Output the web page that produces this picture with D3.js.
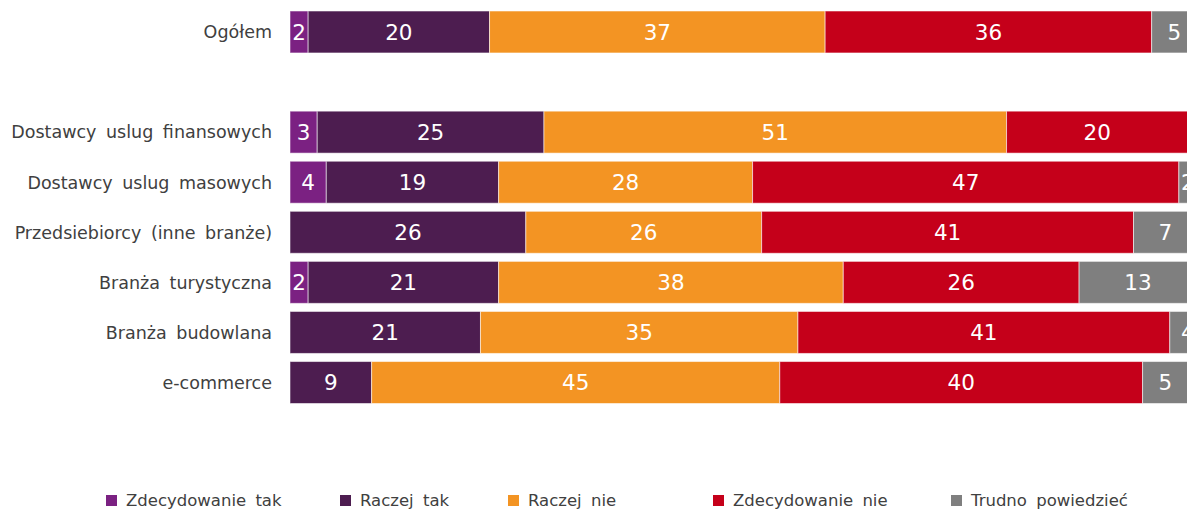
<!DOCTYPE html>
<html>
<head>
<meta charset="utf-8">
<script src="https://cdn.jsdelivr.net/npm/d3@7"></script>
<style>
  html, body { margin: 0; padding: 0; background: #fff; }
  svg { display: block; font-family: "DejaVu Sans", Verdana, sans-serif; }
</style>
</head>
<body>
<svg id="chart" width="1187" height="512"></svg>
<script>
// Row labels (an empty slot separates the total from the groups)
const categories = [
  "Ogółem",
  "",
  "Dostawcy uslug finansowych",
  "Dostawcy uslug masowych",
  "Przedsiebiorcy (inne branże)",
  "Branża turystyczna",
  "Branża budowlana",
  "e-commerce"
];

const seriesNames = ["Zdecydowanie tak", "Raczej tak", "Raczej nie", "Zdecydowanie nie", "Trudno powiedzieć"];
const seriesColors = ["#7b2182", "#4d1d50", "#f39423", "#c5001a", "#7f7f7f"];

// Percentages per answer, one entry per row (null = empty slot)
const zdecydowanieTak = [2, null, 3, 4, 0, 2, 0, 0];
const raczejTak       = [20, null, 25, 19, 26, 21, 21, 9];
const raczejNie       = [37, null, 51, 28, 26, 38, 35, 45];
const zdecydowanieNie = [36, null, 20, 47, 41, 26, 41, 40];
const trudno          = [5, null, 1, 2, 7, 13, 4, 5];

const seriesValues = [zdecydowanieTak, raczejTak, raczejNie, zdecydowanieNie, trudno];

const svg = d3.select("#chart");

const x = d3.scaleLinear().domain([0, 100]).range([290, 1197]);
const y = d3.scaleBand()
  .domain(d3.range(categories.length))
  .range([11, 403.5])
  .paddingInner(0.162)
  .paddingOuter(0);

// Build stacked segments
const segments = categories.map((c, i) => {
  let acc = 0;
  const segs = [];
  if (zdecydowanieTak[i] === null) return segs;
  seriesValues.forEach((vals, s) => {
    const v = vals[i];
    if (v > 0) segs.push({ row: i, s, v, x0: acc, x1: acc + v });
    acc += v;
  });
  return segs;
}).flat();

const g = svg.append("g");

g.selectAll("rect.seg")
  .data(segments)
  .join("rect")
  .attr("class", "seg")
  .attr("x", d => x(d.x0))
  .attr("width", d => x(d.x1) - x(d.x0))
  .attr("y", d => y(d.row))
  .attr("height", y.bandwidth())
  .attr("fill", d => seriesColors[d.s])
  .attr("stroke", "rgba(255,255,255,0.55)")
  .attr("stroke-width", 1);

g.selectAll("text.val")
  .data(segments)
  .join("text")
  .attr("class", "val")
  .attr("x", d => (x(d.x0) + x(d.x1)) / 2)
  .attr("y", d => y(d.row) + y.bandwidth() / 2)
  .attr("dy", "0.36em")
  .attr("text-anchor", "middle")
  .attr("fill", "#fff")
  .attr("font-size", 21.5)
  .text(d => d.v);

// Category axis labels
const yAxis = d3.axisLeft(y)
  .tickSize(0).tickPadding(0)
  .tickFormat(i => categories[i]);

const axisG = svg.append("g")
  .attr("transform", "translate(272,0)")
  .call(yAxis);
axisG.select(".domain").remove();
axisG.selectAll("text")
  .attr("font-family", "DejaVu Sans, Verdana, sans-serif")
  .attr("font-size", 17.5)
  .attr("word-spacing", 4)
  .attr("fill", "#404040")
  .attr("dy", "0.36em");

// Legend
const legendX = [106, 340, 508, 713, 951];
const legend = svg.append("g")
  .selectAll("g")
  .data(seriesNames)
  .join("g")
  .attr("transform", (d, i) => `translate(${legendX[i]},495)`);

legend.append("rect")
  .attr("width", 11)
  .attr("height", 11)
  .attr("fill", (d, i) => seriesColors[i]);

legend.append("text")
  .attr("x", 20)
  .attr("y", 5.5)
  .attr("dy", "0.36em")
  .attr("font-size", 16.5)
  .attr("word-spacing", 4)
  .attr("fill", "#404040")
  .text(d => d);
</script>
</body>
</html>
